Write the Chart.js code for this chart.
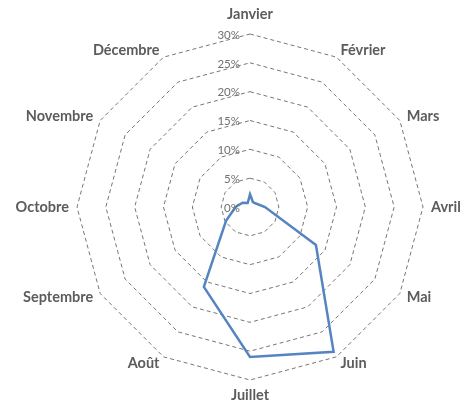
<!DOCTYPE html>
<html>
<head>
<meta charset="utf-8">
<script src="https://cdn.jsdelivr.net/npm/chart.js@4.4.1/dist/chart.umd.min.js"></script>
<style>
  html, body { margin: 0; padding: 0; background: #ffffff; }
  #wrap { width: 472px; height: 405px; position: relative; }
</style>
</head>
<body>
<div id="wrap"><canvas id="radar"></canvas></div>
<script>
// Monthly share (%) of the yearly total
const months = ['Janvier', 'Février', 'Mars', 'Avril', 'Mai', 'Juin',
                'Juillet', 'Août', 'Septembre', 'Octobre', 'Novembre', 'Décembre'];
const shares = [2.2, 1.0, 1.2, 2.6, 13.2, 29, 26, 16, 4.8, 2.5, 1.5, 0.8];
const tickValues = [0, 5, 10, 15, 20, 25, 30];
const tickLabels = ['0%', '5%', '10%', '15%', '20%', '25%', '30%'];

const labelFont = 'bold 14.5px Lato, "Liberation Sans", sans-serif';
const tickFont = '11.5px Lato, "Liberation Sans", sans-serif';

// Category labels: vertically centred just outside each vertex,
// left-aligned on the right half, right-aligned on the left half
const monthLabelPlugin = {
  id: 'monthLabels',
  afterDatasetsDraw(chart) {
    const s = chart.scales.r;
    const ctx = chart.ctx;
    ctx.save();
    ctx.font = labelFont;
    ctx.fillStyle = '#5c5c5c';
    ctx.textBaseline = 'middle';
    months.forEach((m, i) => {
      const p = s.getPointPosition(i, s.drawingArea + 8);
      const dx = p.x - s.xCenter;
      const dy = p.y - s.yCenter;
      let y = p.y;
      if (Math.abs(dx) < 1) {
        ctx.textAlign = 'center';
        y += dy < 0 ? -12 : 7;
      } else {
        ctx.textAlign = dx > 0 ? 'left' : 'right';
      }
      ctx.fillText(m, p.x, y);
    });

    // Radial tick labels sit just left of the vertical axis, right-aligned
    ctx.font = tickFont;
    ctx.fillStyle = '#6f6f6f';
    ctx.textAlign = 'right';
    tickValues.forEach((v, i) => {
      const d = s.getDistanceFromCenterForValue(v);
      ctx.fillText(tickLabels[i], s.xCenter - 10, s.yCenter - d + 1);
    });
    ctx.restore();
  }
};

new Chart(document.getElementById('radar'), {
  type: 'radar',
  data: {
    labels: months,
    datasets: [{
      data: shares,
      borderColor: '#5585c0',
      borderWidth: 2.5,
      fill: false,
      pointRadius: 0,
      tension: 0
    }]
  },
  options: {
    responsive: true,
    maintainAspectRatio: false,
    animation: false,
    layout: { padding: { top: 34, bottom: 25, left: 77, right: 49 } },
    plugins: { legend: { display: false }, tooltip: { enabled: false } },
    scales: {
      r: {
        min: 0,
        max: 30,
        ticks: { stepSize: 5, display: false },
        angleLines: { display: false },
        grid: {
          circular: false,
          color: '#767676',
          lineWidth: 1
        },
        border: { dash: [4, 3] },
        pointLabels: { display: false }
      }
    }
  },
  plugins: [monthLabelPlugin]
});
</script>
</body>
</html>
